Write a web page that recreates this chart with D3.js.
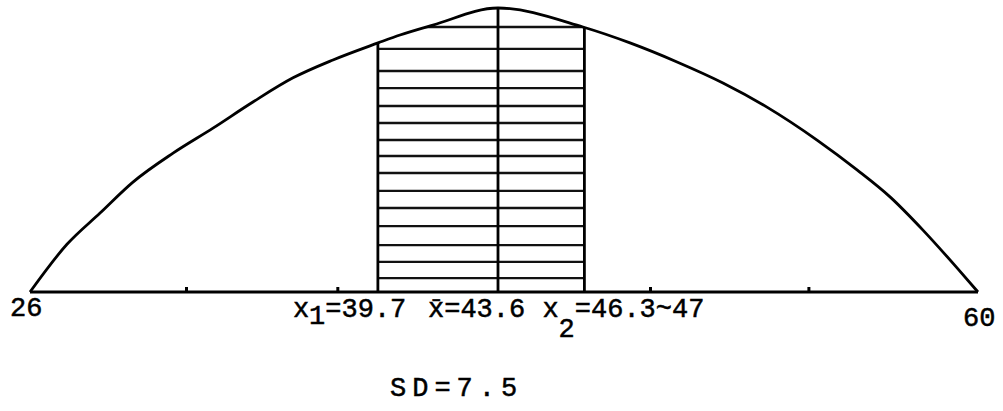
<!DOCTYPE html>
<html>
<head>
<meta charset="utf-8">
<script src="https://cdn.jsdelivr.net/npm/d3@7"></script>
<style>
  html, body { margin: 0; padding: 0; background: #fff; }
  svg { display: block; }
</style>
</head>
<body>
<svg id="chart" width="1003" height="411"></svg>
<script>
// ---- data (x positions in SD units from the mean, as drawn; heights relative to peak) ----
const curveZ = [-3.0, -2.763, -2.551, -2.340, -2.083, -1.827, -1.571, -1.314, -1.058, -0.769, -0.628, -0.417, 0,
                0.531, 0.825, 1.119, 1.406, 1.681, 1.994, 2.244, 2.45, 2.656, 2.869, 3.0];
const curveH = [0, 0.168, 0.278, 0.387, 0.489, 0.577, 0.669, 0.754, 0.817, 0.877, 0.905, 0.940, 1.0,
                0.933, 0.877, 0.810, 0.736, 0.651, 0.535, 0.430, 0.335, 0.218, 0.085, 0];
const tickZ = [-2.0, -1.03, 0.95, 1.94];
const markerNames = ["x1", "mean", "x2"];
const markerZ = [-0.77, 0, 0.54];
const hatchLevels = [0.933, 0.856, 0.778, 0.718, 0.655, 0.595, 0.535, 0.479, 0.419, 0.356, 0.296, 0.232, 0.165, 0.106, 0.049];
const labelZ = [-3, -0.77, 0, 0.54, 3];
const labelMain = ["26", "x", "x\u0304", "x", "60"];
const labelSub = ["", "1", "", "2", ""];
const labelRest = ["", "=39.7", "=43.6", "=46.3~47", ""];
const sdLabel = "SD=7.5";

// ---- drawing ----
const svg = d3.select("#chart");
const x = d3.scaleLinear().domain([-3, 0, 3]).range([30, 498, 978]);
const y = d3.scaleLinear().domain([0, 1]).range([292, 8]);
const heightAt = d3.scaleLinear().domain(curveZ).range(curveH).clamp(true);
const pts = curveZ.map((z, i) => [z, curveH[i]]);

svg.append("rect").attr("width", 1003).attr("height", 411).attr("fill", "#fff");

// clip to area under curve
const area = d3.area().x(d => x(d[0])).y0(y(0)).y1(d => y(d[1])).curve(d3.curveMonotoneX);
svg.append("clipPath").attr("id", "under").append("path").attr("d", area(pts));

// hatch lines between x1 and x2
svg.append("g").attr("clip-path", "url(#under)")
  .selectAll("line").data(hatchLevels).join("line")
  .attr("x1", x(markerZ[0])).attr("x2", x(markerZ[2]))
  .attr("y1", d => y(d)).attr("y2", d => y(d))
  .attr("stroke", "#111").attr("stroke-width", 2.4);

// vertical marker lines
svg.append("g").selectAll("line").data(markerZ).join("line")
  .attr("x1", d => x(d)).attr("x2", d => x(d))
  .attr("y1", y(0)).attr("y2", d => y(heightAt(d)))
  .attr("stroke", "#000").attr("stroke-width", 2.8);

// baseline axis
const axis = d3.axisBottom(x).tickValues(tickZ).tickSize(-5).tickFormat("");
const gAxis = svg.append("g").attr("transform", `translate(0,${y(0)})`).call(axis);
gAxis.select(".domain").attr("d", `M${x(-3)},0H${x(3)}`).attr("stroke", "#000").attr("stroke-width", 2.8);
gAxis.selectAll(".tick line").attr("stroke", "#000").attr("stroke-width", 3);

// curve
const line = d3.line().x(d => x(d[0])).y(d => y(d[1])).curve(d3.curveMonotoneX);
svg.append("path").attr("d", line(pts)).attr("fill", "none")
  .attr("stroke", "#000").attr("stroke-width", 2.8).attr("stroke-linejoin", "round");

// labels
const labelDx = [-20, -85, -70, -42, -15];
const labelY = [316, 317, 317, 317, 326];
const font = "'Liberation Mono', 'DejaVu Sans Mono', monospace";
labelZ.forEach((z, i) => {
  const t = svg.append("text")
    .attr("x", x(z) + labelDx[i]).attr("y", labelY[i])
    .attr("font-family", font).attr("font-size", 27)
    .attr("fill", "#000").attr("stroke", "#000").attr("stroke-width", 0.5);
  t.append("tspan").text(labelMain[i]);
  if (labelSub[i]) {
    const big = labelSub[i] === "2";
    t.append("tspan").attr("dy", big ? 20 : 7).text(labelSub[i]);
    t.append("tspan").attr("dy", big ? -20 : -7).text(labelRest[i]);
  } else if (labelRest[i]) {
    t.append("tspan").text(labelRest[i]);
  }
});

svg.append("text")
  .attr("x", x(0) - 108).attr("y", 396)
  .attr("font-family", font).attr("font-size", 27).attr("letter-spacing", 6)
  .attr("fill", "#000").attr("stroke", "#000").attr("stroke-width", 0.5)
  .text(sdLabel);
</script>
</body>
</html>
